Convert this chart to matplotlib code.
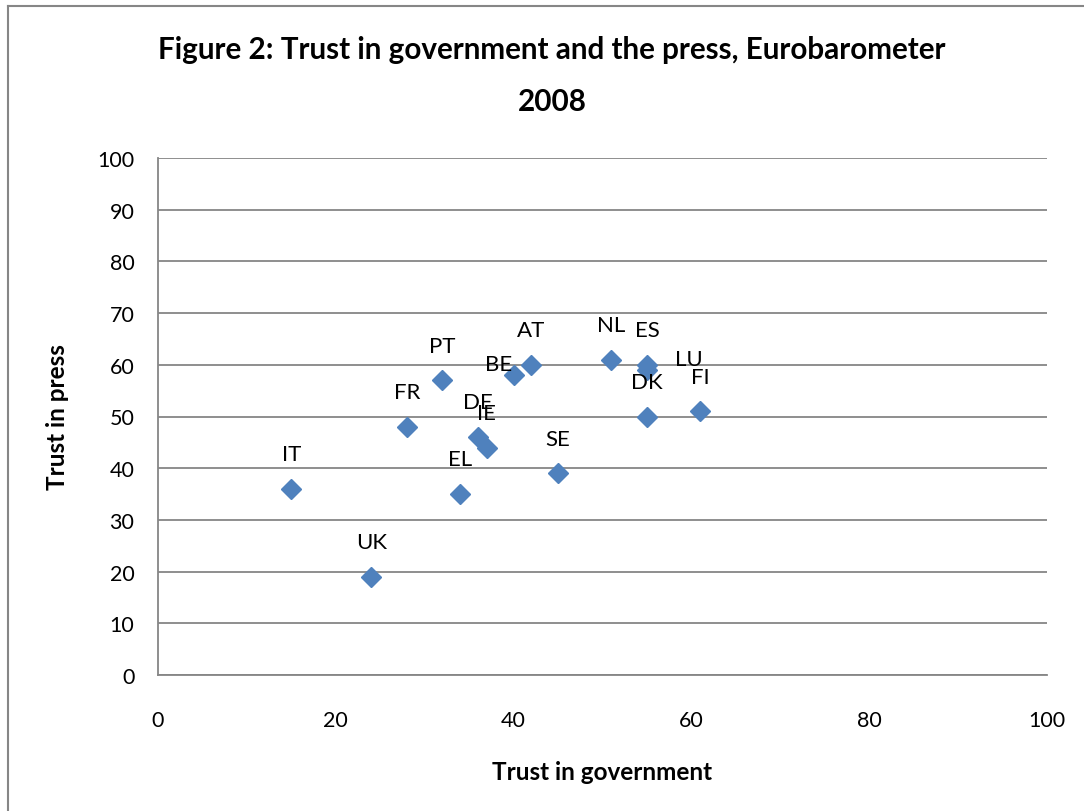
import matplotlib
matplotlib.use("Agg")
import matplotlib.pyplot as plt
from matplotlib.lines import Line2D

countries = ["IT", "UK", "FR", "PT", "EL", "DE", "IE", "BE", "AT", "SE", "NL", "ES", "LU", "DK", "FI"]
trust_gov = [15, 24, 28, 32, 34, 36, 37, 40, 42, 45, 51, 55, 55, 55, 61]
trust_press = [36, 19, 48, 57, 35, 46, 44, 58, 60, 39, 61, 60, 59, 50, 51]
x_ticks = [0, 20, 40, 60, 80, 100]
y_ticks = [0, 10, 20, 30, 40, 50, 60, 70, 80, 90, 100]

label_offsets = {"LU": (30, 8), "BE": (-11, 8)}

plt.rcParams['font.family'] = ['Lato', 'DejaVu Sans']

W, H = 1084, 812
fig = plt.figure(figsize=(W / 100, H / 100), dpi=100)
ax = fig.add_axes([158 / W, 1 - 676 / H, (1047 - 158) / W, (676 - 159) / H])

grid_col = "#868686"
ax.set_xlim(0, 100)
ax.set_ylim(0, 100)
ax.set_xticks(x_ticks)
ax.set_yticks(y_ticks)
ax.yaxis.grid(True, color=grid_col, linewidth=1.3)
ax.set_axisbelow(True)
for s in ["top", "right"]:
    ax.spines[s].set_visible(False)
for s in ["left", "bottom"]:
    ax.spines[s].set_color(grid_col)
    ax.spines[s].set_linewidth(1.3)
ax.tick_params(axis="both", length=0, labelsize=15.5, colors="black")
ax.tick_params(axis="x", pad=25)
ax.tick_params(axis="y", pad=17)

ax.plot(trust_gov, trust_press, linestyle="none", marker="D", markersize=10.5,
        color="#4F81BD", markeredgecolor="#4F81BD", zorder=3)

for c, xv, yv in zip(countries, trust_gov, trust_press):
    off = label_offsets.get(c, (0, 25))
    ax.annotate(c, (xv, yv), xytext=off, textcoords="offset points",
                ha="center", va="center", fontsize=16, zorder=4)

ax.set_xlabel("Trust in government", fontsize=17.5, fontweight="bold", labelpad=22)
ax.set_ylabel("Trust in press", fontsize=17.5, fontweight="bold", labelpad=20)

fig.text(552 / W, 1 - 50 / H, "Figure 2: Trust in government and the press, Eurobarometer",
         ha="center", va="center", fontsize=21.3, fontweight="bold")
fig.text(552 / W, 1 - 102 / H, "2008", ha="center", va="center", fontsize=21.3, fontweight="bold")

# chart border (left and top visible)
fig.add_artist(Line2D([8 / W, 8 / W], [0, 1 - 7 / H], transform=fig.transFigure,
                      color=grid_col, linewidth=1.5))
fig.add_artist(Line2D([8 / W, 1], [1 - 7 / H, 1 - 7 / H], transform=fig.transFigure,
                      color=grid_col, linewidth=1.5))

fig.savefig("out.png", dpi=100)
